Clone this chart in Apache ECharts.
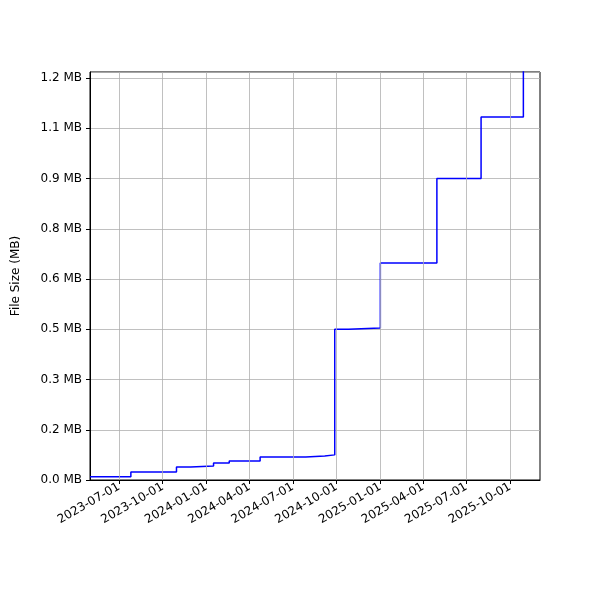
<!DOCTYPE html>
<html><head><meta charset="utf-8">
<script src="https://cdn.jsdelivr.net/npm/echarts@6/dist/echarts.min.js"></script>
<style>html,body{margin:0;padding:0;background:#fff}#c{width:600px;height:600px}</style>
</head><body><div id="c"></div>
<script>
const stepDates = ['2023-05-01','2023-07-26','2023-10-30','2023-11-29','2024-01-16','2024-02-18','2024-04-23','2024-07-28','2024-09-06','2024-09-27','2024-10-26','2025-01-01','2025-04-30','2025-08-01','2025-10-29'];
const stepValues = [0.010,0.024,0.039,0.042,0.051,0.057,0.069,0.072,0.075,0.450,0.454,0.648,0.900,1.084,1.300];
const endDate = '2025-12-03';
const xTicks = ['2023-07-01','2023-10-01','2024-01-01','2024-04-01','2024-07-01','2024-10-01','2025-01-01','2025-04-01','2025-07-01','2025-10-01'];
const yTickLabels = ['0.0','0.2','0.3','0.5','0.6','0.8','0.9','1.1','1.2'];

const ts = s => Date.UTC(+s.slice(0,4), +s.slice(5,7)-1, +s.slice(8,10));
const pts = [];
stepDates.forEach((d,i)=>{
  if(i>0) pts.push([ts(d), stepValues[i-1]]);
  pts.push([ts(d), stepValues[i]]);
});
pts.push([ts(endDate), stepValues[stepValues.length-1]]);
const fmt = v => { const d=new Date(v); const p=n=>String(n).padStart(2,'0'); return d.getUTCFullYear()+'-'+p(d.getUTCMonth()+1)+'-'+p(d.getUTCDate()); };
const font = 'DejaVu Sans';
const chart = echarts.init(document.getElementById('c'));
chart.setOption({
  animation:false,
  grid:{left:90,right:60,top:72,bottom:120,show:true,borderColor:'#000',borderWidth:1,backgroundColor:'transparent'},
  xAxis:{type:'value',min:ts(stepDates[0]),max:ts(endDate),scale:true,
    axisLine:{show:true,lineStyle:{color:'#000'}},
    splitLine:{show:false},
    axisTick:{show:true,customValues:xTicks.map(ts),length:4,lineStyle:{color:'#000'}},
    axisLabel:{customValues:xTicks.map(ts),formatter:v=>fmt(v),rotate:30,color:'#000',fontFamily:font,fontSize:12,margin:6}},
  yAxis:{type:'value',min:0,max:1.218,interval:0.15,
    name:'File Size (MB)',nameLocation:'middle',nameGap:68,nameTextStyle:{color:'#000',fontFamily:font,fontSize:12},
    axisLine:{show:true,lineStyle:{color:'#000'}},
    axisTick:{show:true,length:4,lineStyle:{color:'#000'}},
    splitLine:{show:true,lineStyle:{color:'#b0b0b0',width:0.8}},
    axisLabel:{showMaxLabel:false,color:'#000',fontFamily:font,fontSize:12,formatter:v=>{const i=Math.round(v/0.15);return (yTickLabels[i]||'')+' MB';}}},
  series:[{type:'line',data:pts,symbol:'none',clip:true,lineStyle:{color:'#0000ff',width:1.5},
    markLine:{silent:true,symbol:'none',label:{show:false},lineStyle:{color:'#b0b0b0',width:0.8,type:'solid'},
      data:xTicks.map(d=>({xAxis:ts(d)}))}}]
});
</script></body></html>
